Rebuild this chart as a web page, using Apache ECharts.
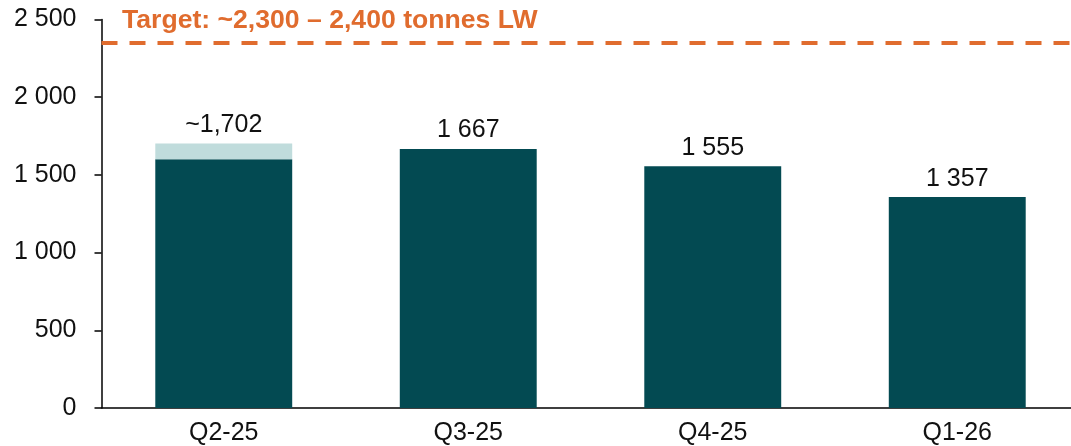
<!DOCTYPE html>
<html>
<head>
<meta charset="utf-8">
<script src="https://cdn.jsdelivr.net/npm/echarts@6/dist/echarts.min.js"></script>
<style>
  html, body { margin: 0; padding: 0; background: #fff; overflow: hidden; }
  #chart { width: 1080px; height: 446px; }
</style>
</head>
<body>
<div id="chart"></div>
<script>
const categories = ['Q2-25', 'Q3-25', 'Q4-25', 'Q1-26'];
const reported = [1600, 1667, 1555, 1357];
const estimated = [102, 0, 0, 0];
const valueLabels = ['~1,702', '1 667', '1 555', '1 357'];
const targetValue = 2350;
const targetText = 'Target: ~2,300 \u2013 2,400 tonnes LW';
const yMin = 0, yMax = 2500, yStep = 500;

const FONT = 'Liberation Sans, Arial, sans-serif';
const DARK = '#034a52';
const LIGHT = '#c0dcdc';
const ORANGE = '#e06c2e';

function fmtThousands(v) {
  return String(v).replace(/\B(?=(\d{3})+(?!\d))/g, ' ');
}

const labelStyle = { show: true, position: 'top', distance: 6, color: '#111', fontSize: 25, fontFamily: FONT };

const baseData = reported.map((v, i) => ({
  value: v,
  label: estimated[i] > 0 ? { show: false } : Object.assign({}, labelStyle, { formatter: valueLabels[i] })
}));
const extraData = estimated.map((v, i) => v > 0 ? ({
  value: v,
  label: Object.assign({}, labelStyle, { formatter: valueLabels[i] })
}) : '-');

const chart = echarts.init(document.getElementById('chart'), null, { renderer: 'canvas' });
chart.setOption({
  animation: false,
  backgroundColor: '#fff',
  title: {
    text: targetText,
    left: 122, top: 7, padding: 0,
    textStyle: { color: ORANGE, fontSize: 26.6, fontWeight: 'bold', fontFamily: FONT }
  },
  grid: { left: 101.5, right: 0.5, top: 19.5, bottom: 38, containLabel: false },
  xAxis: {
    type: 'category',
    data: categories,
    axisLine: { lineStyle: { color: '#000', width: 1.5 } },
    axisTick: { show: false },
    axisLabel: { color: '#111', fontSize: 25, fontFamily: FONT, margin: 13 }
  },
  yAxis: {
    type: 'value',
    min: yMin, max: yMax, interval: yStep,
    axisLine: { show: true, lineStyle: { color: '#000', width: 1.5 } },
    axisTick: { show: true, length: 7, lineStyle: { color: '#000', width: 1.5 } },
    splitLine: { show: false },
    axisLabel: { color: '#111', fontSize: 25, fontFamily: FONT, margin: 25, formatter: fmtThousands }
  },
  series: [
    {
      type: 'bar', stack: 'total', barWidth: '56%',
      itemStyle: { color: DARK },
      data: baseData,
      markLine: {
        silent: true, symbol: 'none',
        label: { show: false },
        lineStyle: { color: ORANGE, width: 4, type: [16, 12] },
        data: [{ yAxis: targetValue }]
      }
    },
    {
      type: 'bar', stack: 'total', barWidth: '56%',
      itemStyle: { color: LIGHT },
      data: extraData
    }
  ]
});
</script>
</body>
</html>
